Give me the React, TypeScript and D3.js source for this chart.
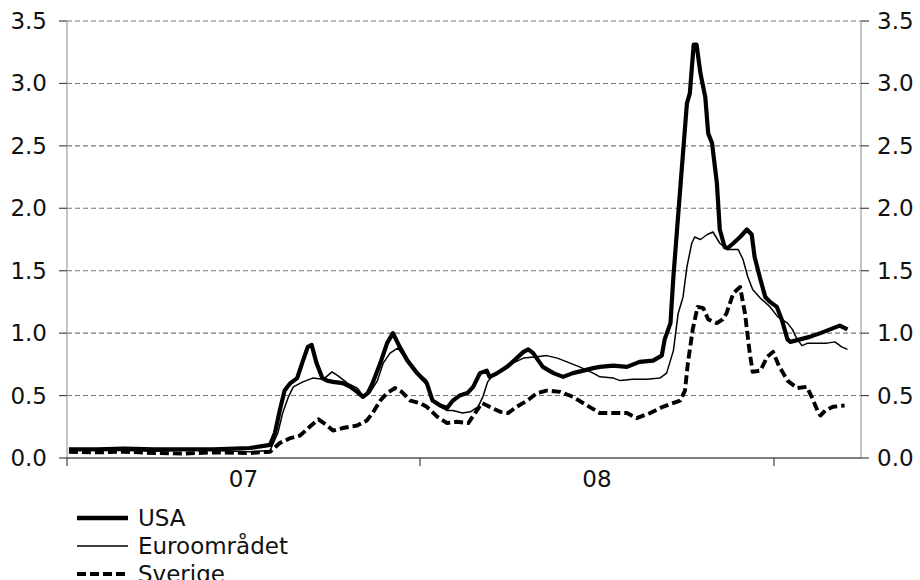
import React from "react";
import * as d3 from "d3";

type Pt = [string, number];

const usa: Pt[] = [
  ["2007-01-03", 0.07], ["2007-02-01", 0.07], ["2007-03-01", 0.075], ["2007-04-01", 0.07],
  ["2007-05-01", 0.07], ["2007-06-01", 0.07], ["2007-07-09", 0.08], ["2007-07-30", 0.105],
  ["2007-08-04", 0.2], ["2007-08-09", 0.38], ["2007-08-14", 0.54], ["2007-08-20", 0.6],
  ["2007-08-27", 0.64], ["2007-09-02", 0.78], ["2007-09-07", 0.89], ["2007-09-11", 0.905],
  ["2007-09-16", 0.76], ["2007-09-22", 0.64], ["2007-09-27", 0.62], ["2007-10-03", 0.61],
  ["2007-10-13", 0.6], ["2007-10-21", 0.57], ["2007-10-28", 0.53], ["2007-11-03", 0.49],
  ["2007-11-08", 0.52], ["2007-11-13", 0.6], ["2007-11-21", 0.76], ["2007-11-28", 0.92],
  ["2007-12-04", 1.0], ["2007-12-11", 0.89], ["2007-12-19", 0.78], ["2007-12-29", 0.68],
  ["2008-01-08", 0.6], ["2008-01-14", 0.46], ["2008-01-22", 0.42], ["2008-01-29", 0.4],
  ["2008-02-04", 0.46], ["2008-02-11", 0.5], ["2008-02-19", 0.52], ["2008-02-25", 0.57],
  ["2008-03-03", 0.68], ["2008-03-10", 0.7], ["2008-03-13", 0.65], ["2008-03-21", 0.68],
  ["2008-03-31", 0.73], ["2008-04-10", 0.8], ["2008-04-17", 0.85], ["2008-04-22", 0.87],
  ["2008-04-27", 0.84], ["2008-05-07", 0.73], ["2008-05-18", 0.68], ["2008-05-28", 0.65],
  ["2008-06-07", 0.68], ["2008-06-18", 0.7], ["2008-06-28", 0.72], ["2008-07-05", 0.73],
  ["2008-07-19", 0.74], ["2008-08-02", 0.73], ["2008-08-15", 0.77], ["2008-08-29", 0.78],
  ["2008-09-07", 0.82], ["2008-09-10", 0.95], ["2008-09-16", 1.08], ["2008-09-19", 1.45],
  ["2008-09-26", 2.15], ["2008-10-03", 2.84], ["2008-10-06", 2.92], ["2008-10-10", 3.31],
  ["2008-10-13", 3.31], ["2008-10-17", 3.08], ["2008-10-22", 2.89], ["2008-10-25", 2.6],
  ["2008-10-29", 2.52], ["2008-11-03", 2.2], ["2008-11-06", 1.83], ["2008-11-11", 1.69],
  ["2008-11-14", 1.68], ["2008-11-20", 1.72], ["2008-11-27", 1.77], ["2008-12-04", 1.83],
  ["2008-12-09", 1.79], ["2008-12-12", 1.61], ["2008-12-18", 1.43], ["2008-12-23", 1.29],
  ["2008-12-28", 1.25], ["2009-01-04", 1.21], ["2009-01-09", 1.11], ["2009-01-15", 0.95],
  ["2009-01-18", 0.93], ["2009-01-28", 0.95], ["2009-02-07", 0.97], ["2009-02-18", 1.0],
  ["2009-02-28", 1.03], ["2009-03-10", 1.06], ["2009-03-18", 1.03],
];

const euro: Pt[] = [
  ["2007-01-03", 0.06], ["2007-02-01", 0.06], ["2007-03-01", 0.06], ["2007-04-01", 0.055],
  ["2007-05-01", 0.06], ["2007-06-01", 0.06], ["2007-07-09", 0.05], ["2007-07-30", 0.06],
  ["2007-08-07", 0.2], ["2007-08-12", 0.36], ["2007-08-18", 0.49], ["2007-08-23", 0.57],
  ["2007-09-02", 0.61], ["2007-09-12", 0.64], ["2007-09-23", 0.63], ["2007-10-02", 0.69],
  ["2007-10-08", 0.66], ["2007-10-18", 0.6], ["2007-10-28", 0.56], ["2007-11-03", 0.5],
  ["2007-11-10", 0.52], ["2007-11-18", 0.62], ["2007-11-24", 0.76], ["2007-12-01", 0.84],
  ["2007-12-09", 0.88], ["2007-12-19", 0.78], ["2007-12-29", 0.69], ["2008-01-08", 0.62],
  ["2008-01-14", 0.46], ["2008-01-22", 0.41], ["2008-01-29", 0.38], ["2008-02-04", 0.38],
  ["2008-02-14", 0.36], ["2008-02-22", 0.37], ["2008-03-01", 0.41], ["2008-03-06", 0.49],
  ["2008-03-11", 0.61], ["2008-03-16", 0.66], ["2008-03-27", 0.7], ["2008-04-06", 0.76],
  ["2008-04-17", 0.8], ["2008-05-01", 0.81], ["2008-05-11", 0.82], ["2008-05-22", 0.8],
  ["2008-06-01", 0.77], ["2008-06-14", 0.73], ["2008-06-28", 0.68], ["2008-07-05", 0.65],
  ["2008-07-19", 0.64], ["2008-07-26", 0.62], ["2008-08-08", 0.63], ["2008-08-23", 0.63],
  ["2008-09-05", 0.64], ["2008-09-12", 0.68], ["2008-09-19", 0.86], ["2008-09-24", 1.16],
  ["2008-09-29", 1.29], ["2008-10-03", 1.53], ["2008-10-08", 1.72], ["2008-10-11", 1.77],
  ["2008-10-17", 1.75], ["2008-10-24", 1.79], ["2008-10-30", 1.81], ["2008-11-06", 1.72],
  ["2008-11-14", 1.67], ["2008-11-25", 1.67], ["2008-11-30", 1.59], ["2008-12-05", 1.45],
  ["2008-12-10", 1.35], ["2008-12-18", 1.28], ["2008-12-28", 1.21], ["2009-01-05", 1.13],
  ["2009-01-15", 1.08], ["2009-01-20", 1.03], ["2009-01-25", 0.95], ["2009-01-30", 0.9],
  ["2009-02-05", 0.92], ["2009-02-15", 0.92], ["2009-02-25", 0.92], ["2009-03-05", 0.93],
  ["2009-03-12", 0.89], ["2009-03-18", 0.87],
];

const sverige: Pt[] = [
  ["2007-01-03", 0.05], ["2007-02-01", 0.045], ["2007-03-01", 0.05], ["2007-04-01", 0.04],
  ["2007-05-01", 0.035], ["2007-06-01", 0.045], ["2007-07-09", 0.04], ["2007-07-30", 0.05],
  ["2007-08-09", 0.12], ["2007-08-20", 0.16], ["2007-08-30", 0.18], ["2007-09-09", 0.25],
  ["2007-09-18", 0.31], ["2007-09-27", 0.26], ["2007-10-03", 0.22], ["2007-10-13", 0.24],
  ["2007-10-28", 0.26], ["2007-11-07", 0.3], ["2007-11-13", 0.36], ["2007-11-21", 0.46],
  ["2007-11-28", 0.52], ["2007-12-06", 0.56], ["2007-12-13", 0.53], ["2007-12-22", 0.46],
  ["2008-01-01", 0.44], ["2008-01-08", 0.41], ["2008-01-19", 0.33], ["2008-01-29", 0.28],
  ["2008-02-08", 0.29], ["2008-02-20", 0.28], ["2008-02-27", 0.36], ["2008-03-05", 0.44],
  ["2008-03-13", 0.41], ["2008-03-24", 0.37], ["2008-04-01", 0.36], ["2008-04-10", 0.41],
  ["2008-04-21", 0.46], ["2008-05-01", 0.52], ["2008-05-11", 0.54], ["2008-05-25", 0.53],
  ["2008-06-07", 0.49], ["2008-06-22", 0.42], ["2008-07-05", 0.36], ["2008-07-19", 0.36],
  ["2008-08-02", 0.36], ["2008-08-12", 0.32], ["2008-08-26", 0.36], ["2008-09-08", 0.41],
  ["2008-09-26", 0.46], ["2008-10-01", 0.54], ["2008-10-04", 0.76], ["2008-10-09", 1.03],
  ["2008-10-14", 1.21], ["2008-10-20", 1.2], ["2008-10-25", 1.11], ["2008-11-03", 1.08],
  ["2008-11-09", 1.11], ["2008-11-13", 1.16], ["2008-11-20", 1.32], ["2008-11-27", 1.37],
  ["2008-12-02", 1.16], ["2008-12-07", 0.84], ["2008-12-10", 0.69], ["2008-12-18", 0.7],
  ["2008-12-25", 0.81], ["2008-12-31", 0.85], ["2009-01-06", 0.74], ["2009-01-15", 0.62],
  ["2009-01-25", 0.56], ["2009-02-04", 0.57], ["2009-02-09", 0.49], ["2009-02-15", 0.38],
  ["2009-02-18", 0.34], ["2009-02-23", 0.38], ["2009-03-03", 0.41], ["2009-03-15", 0.42],
];

const yTicks = [0, 0.5, 1, 1.5, 2, 2.5, 3, 3.5];
const yearTicks = ["2007-01-01", "2008-01-01", "2009-01-01"];
const yearLabels = ["07", "08"];
const xDomain = ["2007-01-01", "2009-04-01"];

const legendItems = [
  { name: "USA", width: 4.5, dash: "" },
  { name: "Euroområdet", width: 1.4, dash: "" },
  { name: "Sverige", width: 4.2, dash: "9,4" },
];

const W = 920;
const H = 580;
const M = { left: 67, right: 861, top: 21, bottom: 458 };
const FONT = "'DejaVu Sans', Verdana, sans-serif";

export default function App() {
  const parse = d3.timeParse("%Y-%m-%d");
  const x = d3
    .scaleTime()
    .domain(xDomain.map((s) => parse(s) as Date))
    .range([M.left, M.right]);
  const y = d3.scaleLinear().domain([0, 3.5]).range([M.bottom, M.top]);
  const line = d3
    .line<Pt>()
    .x((d) => x(parse(d[0]) as Date))
    .y((d) => y(d[1]));

  const series = [
    { data: usa, width: 4.2, dash: "" },
    { data: euro, width: 1.5, dash: "" },
    { data: sverige, width: 3.9, dash: "9,4" },
  ];

  const yearX = yearTicks.map((s) => x(parse(s) as Date));

  return (
    <svg
      width={W}
      height={H}
      style={{ position: "absolute", left: 0, top: 0, background: "#fff" }}
      fontFamily={FONT}
    >
      {yTicks.slice(1).map((t) => (
        <line
          key={"g" + t}
          x1={M.left}
          x2={M.right}
          y1={y(t)}
          y2={y(t)}
          stroke="#777"
          strokeWidth={1.1}
          strokeDasharray="5,3"
        />
      ))}
      <line x1={M.left} x2={M.left} y1={M.top} y2={M.bottom} stroke="#b0b0b0" strokeWidth={1.5} />
      <line x1={M.right} x2={M.right} y1={M.top} y2={M.bottom} stroke="#b0b0b0" strokeWidth={1.5} />
      {yTicks.map((t) => (
        <g key={"t" + t}>
          <line x1={M.left - 8} x2={M.left} y1={y(t)} y2={y(t)} stroke="#444" strokeWidth={1.2} />
          <line x1={M.right} x2={M.right + 8} y1={y(t)} y2={y(t)} stroke="#444" strokeWidth={1.2} />
          <text x={47} y={y(t)} textAnchor="end" dominantBaseline="central" fontSize={23} fill="#111">
            {t.toFixed(1)}
          </text>
          <text x={877} y={y(t)} textAnchor="start" dominantBaseline="central" fontSize={23} fill="#111">
            {t.toFixed(1)}
          </text>
        </g>
      ))}
      <line x1={M.left} x2={M.right} y1={M.bottom} y2={M.bottom} stroke="#555" strokeWidth={1.5} />
      {yearX.map((px, i) => (
        <line key={"xt" + i} x1={px} x2={px} y1={M.bottom} y2={M.bottom + 8} stroke="#444" strokeWidth={1.2} />
      ))}
      {yearLabels.map((lab, i) => (
        <text
          key={lab}
          x={(yearX[i] + yearX[i + 1]) / 2}
          y={479}
          textAnchor="middle"
          dominantBaseline="central"
          fontSize={23}
          fill="#111"
        >
          {lab}
        </text>
      ))}
      {series.map((s, i) => (
        <path
          key={"s" + i}
          d={line(s.data) || ""}
          fill="none"
          stroke="#000"
          strokeWidth={s.width}
          strokeDasharray={s.dash || undefined}
          strokeLinejoin="round"
        />
      ))}
      {legendItems.map((it, i) => (
        <g key={it.name} transform={`translate(0, ${518 + i * 28})`}>
          <line
            x1={77}
            x2={128}
            y1={0}
            y2={0}
            stroke="#000"
            strokeWidth={it.width}
            strokeDasharray={it.dash || undefined}
          />
          <text x={138} y={0} dominantBaseline="central" fontSize={23} fill="#111">
            {it.name}
          </text>
        </g>
      ))}
    </svg>
  );
}
